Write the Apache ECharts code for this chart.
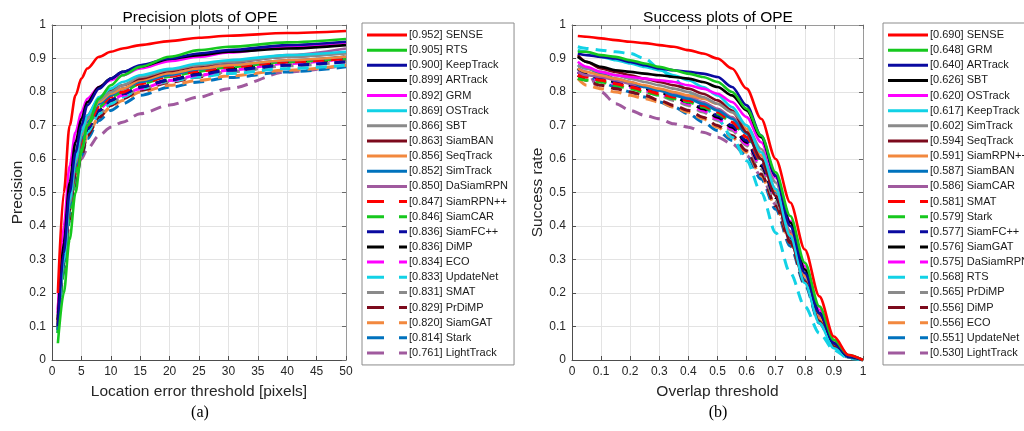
<!DOCTYPE html>
<html>
<head>
<meta charset="utf-8">
<script src="https://cdn.jsdelivr.net/npm/echarts@6/dist/echarts.min.js"></script>
<style>
  html, body { margin: 0; padding: 0; background: #fff; }
  #main { width: 1024px; height: 431px; }
</style>
</head>
<body>
<div id="main"></div>
<script>
// ---- precision plot data (OPE) ----
var precThresholds = [1, 2, 3, 4, 5, 6, 8, 10, 12, 15, 20, 25, 30, 40, 50];
var precNames = ['SENSE', 'RTS', 'KeepTrack', 'ARTrack', 'GRM', 'OSTrack', 'SBT', 'SiamBAN', 'SeqTrack', 'SimTrack', 'DaSiamRPN',
    'SiamRPN++', 'SiamCAR', 'SiamFC++', 'DiMP', 'ECO', 'UpdateNet', 'SMAT', 'PrDiMP', 'SiamGAT', 'Stark', 'LightTrack'];
var precScores = ['0.952', '0.905', '0.900', '0.899', '0.892', '0.869', '0.866', '0.863', '0.856', '0.852', '0.850',
    '0.847', '0.846', '0.836', '0.836', '0.834', '0.833', '0.831', '0.829', '0.820', '0.814', '0.761'];
var precSENSE = [0.20, 0.50, 0.70, 0.79, 0.84, 0.87, 0.905, 0.92, 0.93, 0.94, 0.952, 0.962, 0.968, 0.976, 0.982];
var precRTS = [0.05, 0.20, 0.36, 0.50, 0.62, 0.70, 0.78, 0.82, 0.85, 0.875, 0.905, 0.925, 0.935, 0.948, 0.958];
var precKeepTrack = [0.10, 0.32, 0.50, 0.62, 0.70, 0.76, 0.81, 0.84, 0.86, 0.88, 0.900, 0.915, 0.925, 0.94, 0.95];
var precARTrack = [0.12, 0.35, 0.53, 0.65, 0.72, 0.77, 0.815, 0.84, 0.86, 0.875, 0.899, 0.91, 0.92, 0.93, 0.94];
var precGRM = [0.15, 0.40, 0.58, 0.68, 0.74, 0.78, 0.815, 0.835, 0.85, 0.87, 0.892, 0.905, 0.918, 0.935, 0.948];
var precOSTrack = [0.10, 0.30, 0.48, 0.60, 0.68, 0.73, 0.785, 0.81, 0.83, 0.85, 0.869, 0.885, 0.895, 0.91, 0.92];
var precSBT = [0.10, 0.30, 0.47, 0.59, 0.67, 0.72, 0.775, 0.80, 0.82, 0.845, 0.866, 0.88, 0.89, 0.905, 0.915];
var precSiamBAN = [0.12, 0.33, 0.50, 0.61, 0.68, 0.73, 0.78, 0.805, 0.82, 0.84, 0.863, 0.878, 0.89, 0.905, 0.918];
var precSeqTrack = [0.11, 0.32, 0.49, 0.60, 0.67, 0.72, 0.77, 0.795, 0.81, 0.835, 0.856, 0.87, 0.88, 0.895, 0.905];
var precSimTrack = [0.09, 0.29, 0.46, 0.58, 0.66, 0.71, 0.765, 0.79, 0.81, 0.83, 0.852, 0.868, 0.88, 0.895, 0.905];
var precDaSiamRPN = [0.13, 0.34, 0.50, 0.61, 0.68, 0.72, 0.77, 0.79, 0.81, 0.83, 0.850, 0.87, 0.885, 0.91, 0.93];
var precSiamRPNpp = [0.10, 0.30, 0.46, 0.57, 0.65, 0.70, 0.755, 0.785, 0.80, 0.825, 0.847, 0.862, 0.875, 0.89, 0.90];
var precSiamCAR = [0.08, 0.27, 0.44, 0.56, 0.64, 0.70, 0.755, 0.785, 0.80, 0.825, 0.846, 0.862, 0.875, 0.89, 0.90];
var precSiamFCpp = [0.10, 0.30, 0.46, 0.57, 0.645, 0.69, 0.745, 0.775, 0.795, 0.815, 0.836, 0.852, 0.865, 0.88, 0.89];
var precDiMP = [0.10, 0.29, 0.45, 0.56, 0.64, 0.69, 0.745, 0.775, 0.795, 0.815, 0.836, 0.855, 0.87, 0.89, 0.905];
var precECO = [0.14, 0.35, 0.50, 0.60, 0.66, 0.70, 0.75, 0.775, 0.79, 0.81, 0.834, 0.85, 0.865, 0.885, 0.90];
var precUpdateNet = [0.09, 0.28, 0.44, 0.55, 0.63, 0.68, 0.735, 0.765, 0.785, 0.81, 0.833, 0.845, 0.855, 0.87, 0.88];
var precSMAT = [0.10, 0.29, 0.45, 0.56, 0.63, 0.68, 0.735, 0.765, 0.785, 0.81, 0.831, 0.848, 0.86, 0.878, 0.89];
var precPrDiMP = [0.09, 0.27, 0.42, 0.53, 0.61, 0.67, 0.725, 0.76, 0.78, 0.805, 0.829, 0.845, 0.86, 0.88, 0.895];
var precSiamGAT = [0.11, 0.30, 0.45, 0.55, 0.62, 0.67, 0.725, 0.755, 0.775, 0.80, 0.820, 0.835, 0.848, 0.865, 0.88];
var precStark = [0.08, 0.26, 0.42, 0.53, 0.61, 0.66, 0.715, 0.745, 0.765, 0.79, 0.814, 0.83, 0.843, 0.86, 0.875];
var precLightTrack = [0.12, 0.32, 0.47, 0.55, 0.60, 0.63, 0.67, 0.695, 0.71, 0.735, 0.761, 0.785, 0.81, 0.86, 0.88];
var precValues = [precSENSE, precRTS, precKeepTrack, precARTrack, precGRM, precOSTrack, precSBT, precSiamBAN, precSeqTrack,
    precSimTrack, precDaSiamRPN, precSiamRPNpp, precSiamCAR, precSiamFCpp, precDiMP, precECO, precUpdateNet, precSMAT,
    precPrDiMP, precSiamGAT, precStark, precLightTrack];

// ---- success plot data (OPE) ----
var succThresholds = [0.02, 0.05, 0.1, 0.15, 0.2, 0.25, 0.3, 0.35, 0.4, 0.45, 0.5, 0.55, 0.6, 0.65, 0.7, 0.75, 0.8, 0.85, 0.9, 0.95, 1.0];
var succNames = ['SENSE', 'GRM', 'ARTrack', 'SBT', 'OSTrack', 'KeepTrack', 'SimTrack', 'SeqTrack', 'SiamRPN++', 'SiamBAN', 'SiamCAR',
    'SMAT', 'Stark', 'SiamFC++', 'SiamGAT', 'DaSiamRPN', 'RTS', 'PrDiMP', 'DiMP', 'ECO', 'UpdateNet', 'LightTrack'];
var succScores = ['0.690', '0.648', '0.640', '0.626', '0.620', '0.617', '0.602', '0.594', '0.591', '0.587', '0.586',
    '0.581', '0.579', '0.577', '0.576', '0.575', '0.568', '0.565', '0.556', '0.556', '0.551', '0.530'];
var succSENSE = [0.967, 0.965, 0.96, 0.955, 0.95, 0.946, 0.94, 0.935, 0.925, 0.915, 0.9, 0.87, 0.81, 0.72, 0.60, 0.47, 0.33, 0.19, 0.07, 0.015, 0];
var succGRM = [0.92, 0.92, 0.91, 0.905, 0.895, 0.885, 0.875, 0.865, 0.855, 0.845, 0.83, 0.80, 0.75, 0.67, 0.56, 0.43, 0.29, 0.16, 0.06, 0.015, 0];
var succARTrack = [0.915, 0.91, 0.905, 0.9, 0.89, 0.88, 0.87, 0.865, 0.86, 0.855, 0.845, 0.815, 0.76, 0.67, 0.55, 0.40, 0.26, 0.14, 0.05, 0.01, 0];
var succSBT = [0.905, 0.89, 0.875, 0.865, 0.86, 0.855, 0.85, 0.845, 0.84, 0.83, 0.815, 0.79, 0.745, 0.665, 0.55, 0.41, 0.27, 0.14, 0.05, 0.01, 0];
var succOSTrack = [0.89, 0.875, 0.86, 0.85, 0.845, 0.84, 0.835, 0.83, 0.82, 0.81, 0.795, 0.77, 0.725, 0.65, 0.545, 0.415, 0.28, 0.15, 0.055, 0.012, 0];
var succKeepTrack = [0.925, 0.92, 0.905, 0.895, 0.885, 0.875, 0.865, 0.85, 0.835, 0.815, 0.79, 0.755, 0.70, 0.62, 0.51, 0.37, 0.23, 0.11, 0.035, 0.008, 0];
var succSimTrack = [0.88, 0.87, 0.86, 0.85, 0.84, 0.83, 0.82, 0.81, 0.80, 0.785, 0.765, 0.74, 0.70, 0.63, 0.53, 0.40, 0.27, 0.14, 0.05, 0.01, 0];
var succSeqTrack = [0.91, 0.89, 0.87, 0.86, 0.85, 0.84, 0.83, 0.82, 0.81, 0.795, 0.775, 0.745, 0.68, 0.60, 0.49, 0.355, 0.235, 0.115, 0.04, 0.008, 0];
var succSiamRPNpp = [0.87, 0.86, 0.85, 0.84, 0.83, 0.82, 0.81, 0.80, 0.79, 0.78, 0.765, 0.74, 0.69, 0.61, 0.505, 0.375, 0.25, 0.125, 0.045, 0.01, 0];
var succSiamBAN = [0.88, 0.87, 0.855, 0.84, 0.83, 0.815, 0.805, 0.79, 0.78, 0.765, 0.745, 0.72, 0.675, 0.60, 0.50, 0.37, 0.24, 0.12, 0.04, 0.008, 0];
var succSiamCAR = [0.86, 0.85, 0.845, 0.835, 0.825, 0.815, 0.805, 0.795, 0.785, 0.77, 0.75, 0.725, 0.68, 0.61, 0.51, 0.385, 0.255, 0.13, 0.05, 0.012, 0];
var succSMAT = [0.85, 0.845, 0.835, 0.825, 0.815, 0.805, 0.795, 0.785, 0.775, 0.76, 0.74, 0.71, 0.665, 0.595, 0.50, 0.38, 0.25, 0.13, 0.05, 0.012, 0];
var succStark = [0.84, 0.835, 0.83, 0.82, 0.81, 0.80, 0.79, 0.78, 0.77, 0.755, 0.735, 0.71, 0.665, 0.595, 0.50, 0.38, 0.25, 0.13, 0.05, 0.012, 0];
var succSiamFCpp = [0.86, 0.85, 0.84, 0.83, 0.82, 0.81, 0.80, 0.79, 0.775, 0.755, 0.73, 0.70, 0.655, 0.585, 0.49, 0.37, 0.24, 0.12, 0.045, 0.01, 0];
var succSiamGAT = [0.87, 0.855, 0.84, 0.83, 0.82, 0.81, 0.80, 0.785, 0.77, 0.75, 0.725, 0.695, 0.65, 0.58, 0.485, 0.37, 0.24, 0.12, 0.045, 0.01, 0];
var succDaSiamRPN = [0.86, 0.845, 0.835, 0.825, 0.815, 0.805, 0.795, 0.78, 0.765, 0.745, 0.72, 0.69, 0.645, 0.58, 0.49, 0.375, 0.25, 0.13, 0.05, 0.012, 0];
var succRTS = [0.935, 0.93, 0.925, 0.92, 0.915, 0.90, 0.87, 0.84, 0.80, 0.76, 0.72, 0.665, 0.595, 0.50, 0.38, 0.26, 0.16, 0.08, 0.03, 0.005, 0];
var succPrDiMP = [0.86, 0.85, 0.835, 0.825, 0.815, 0.80, 0.79, 0.775, 0.76, 0.74, 0.715, 0.685, 0.64, 0.57, 0.475, 0.36, 0.235, 0.115, 0.04, 0.008, 0];
var succDiMP = [0.85, 0.835, 0.82, 0.81, 0.80, 0.79, 0.775, 0.76, 0.745, 0.725, 0.70, 0.67, 0.625, 0.555, 0.46, 0.35, 0.23, 0.115, 0.04, 0.008, 0];
var succECO = [0.84, 0.82, 0.81, 0.80, 0.79, 0.78, 0.77, 0.755, 0.74, 0.72, 0.695, 0.665, 0.62, 0.55, 0.46, 0.35, 0.235, 0.12, 0.045, 0.01, 0];
var succUpdateNet = [0.87, 0.85, 0.83, 0.815, 0.80, 0.785, 0.77, 0.755, 0.735, 0.71, 0.685, 0.655, 0.61, 0.54, 0.45, 0.34, 0.225, 0.11, 0.04, 0.008, 0];
var succLightTrack = [0.87, 0.86, 0.80, 0.765, 0.745, 0.73, 0.72, 0.705, 0.695, 0.68, 0.665, 0.645, 0.61, 0.55, 0.465, 0.36, 0.245, 0.13, 0.05, 0.012, 0];
var succValues = [succSENSE, succGRM, succARTrack, succSBT, succOSTrack, succKeepTrack, succSimTrack, succSeqTrack, succSiamRPNpp,
    succSiamBAN, succSiamCAR, succSMAT, succStark, succSiamFCpp, succSiamGAT, succDaSiamRPN, succRTS, succPrDiMP, succDiMP,
    succECO, succUpdateNet, succLightTrack];

// 11 colours, first pass solid, second pass dashed (same order in both plots)
var lineColors = ['#ff0000', '#16c81e', '#0a0aa0', '#000000', '#ff00ff', '#12d2e6', '#8a8a8a', '#7c0a1c', '#f2883e', '#0072bd', '#a05a9e'];

var FONT = '"Liberation Sans", Arial, sans-serif';
// legend sample for dashed lines: long dash, gap, short dash
var DASH_ICON = 'path://M0,0H17V3H0Z M32,0H40V3H32Z';

function buildSeries(names, scores, values, xs, axisIdx) {
    var series = [];
    var legendData = [];
    for (var i = 0; i < names.length; i++) {
        var label = '[' + scores[i] + '] ' + names[i];
        var dashed = i >= 11;
        var color = lineColors[i % 11];
        var pts = [];
        for (var j = 0; j < xs.length; j++) {
            pts.push([xs[j], values[i][j]]);
        }
        series.push({
            name: label,
            type: 'line',
            xAxisIndex: axisIdx,
            yAxisIndex: axisIdx,
            data: pts,
            symbol: 'none',
            smooth: 0.3,
            smoothMonotone: 'x',
            z: 30 - i,
            silent: true,
            itemStyle: { color: color },
            lineStyle: { color: color, width: dashed ? 3 : 2.6, type: dashed ? [11, 7] : 'solid' }
        });
        legendData.push({
            name: label,
            icon: dashed ? DASH_ICON : 'rect',
            itemStyle: { color: color }
        });
    }
    return { series: series, legend: legendData };
}

var prec = buildSeries(precNames, precScores, precValues, precThresholds, 0);
var succ = buildSeries(succNames, succScores, succValues, succThresholds, 1);

function axisCommon() {
    return {
        axisLine: { show: true, onZero: false, lineStyle: { color: '#4d4d4d', width: 1 } },
        axisTick: { show: true, inside: true, length: 4, lineStyle: { color: '#4d4d4d' } },
        axisLabel: { color: '#262626', fontSize: 12, fontFamily: FONT, margin: 6 },
        splitLine: { show: true, lineStyle: { color: '#e3e3e3', width: 1 } },
        nameLocation: 'middle',
        nameTextStyle: { color: '#262626', fontSize: 15.5, fontFamily: FONT }
    };
}

function mk(extra) {
    var o = axisCommon();
    for (var k in extra) o[k] = extra[k];
    return o;
}

// mirrored box axes (top / right) with inward ticks, no labels
function mirror(extra) {
    var o = {
        type: 'value',
        axisLine: { show: true, onZero: false, lineStyle: { color: '#9a9a9a', width: 1 } },
        axisTick: { show: true, inside: true, length: 4, lineStyle: { color: '#6a6a6a' } },
        axisLabel: { show: false },
        splitLine: { show: false }
    };
    for (var k in extra) o[k] = extra[k];
    return o;
}

var legendCommon = {
    orient: 'vertical',
    top: 23,
    itemWidth: 40,
    itemHeight: 3,
    itemGap: 3.14,
    padding: [6, 6, 6, 5],
    borderColor: '#8c8c8c',
    borderWidth: 1,
    borderRadius: 0,
    backgroundColor: '#fff',
    selectedMode: false,
    textStyle: { fontSize: 11, lineHeight: 12, color: '#1a1a1a', fontFamily: FONT, padding: [0, 0, 0, -3] }
};

var chart = echarts.init(document.getElementById('main'), null, { renderer: 'canvas' });
var option = {
    animation: false,
    backgroundColor: '#fff',
    title: [
        { text: 'Precision plots of OPE', left: 195, top: 5, textAlign: 'center',
          textStyle: { fontSize: 15.5, fontWeight: 'normal', color: '#000', fontFamily: FONT } },
        { text: 'Success plots of OPE', left: 713, top: 5, textAlign: 'center',
          textStyle: { fontSize: 15.5, fontWeight: 'normal', color: '#000', fontFamily: FONT } },
        { text: '(a)', left: 195, top: 400, textAlign: 'center',
          textStyle: { fontSize: 16, fontWeight: 'normal', color: '#000', fontFamily: '"Liberation Serif", serif' } },
        { text: '(b)', left: 713, top: 400, textAlign: 'center',
          textStyle: { fontSize: 16, fontWeight: 'normal', color: '#000', fontFamily: '"Liberation Serif", serif' } }
    ],
    grid: [
        { left: 52, top: 25, width: 294, height: 335, show: true, borderWidth: 0, backgroundColor: '#fff', outerBoundsMode: 'none' },
        { left: 572, top: 25, width: 291, height: 335, show: true, borderWidth: 0, backgroundColor: '#fff', outerBoundsMode: 'none' }
    ],
    legend: [
        Object.assign({}, legendCommon, { left: 362, data: prec.legend }),
        Object.assign({}, legendCommon, { left: 883, data: succ.legend })
    ],
    xAxis: [
        mk({ type: 'value', gridIndex: 0, min: 0, max: 50, interval: 5, name: 'Location error threshold [pixels]', nameGap: 24 }),
        mk({ type: 'value', gridIndex: 1, min: 0, max: 1, interval: 0.1, name: 'Overlap threshold', nameGap: 24 }),
        mirror({ gridIndex: 0, position: 'top', min: 0, max: 50, interval: 5 }),
        mirror({ gridIndex: 1, position: 'top', min: 0, max: 1, interval: 0.1 })
    ],
    yAxis: [
        mk({ type: 'value', gridIndex: 0, min: 0, max: 1, interval: 0.1, name: 'Precision', nameGap: 25 }),
        mk({ type: 'value', gridIndex: 1, min: 0, max: 1, interval: 0.1, name: 'Success rate', nameGap: 25 }),
        mirror({ gridIndex: 0, position: 'right', min: 0, max: 1, interval: 0.1 }),
        mirror({ gridIndex: 1, position: 'right', min: 0, max: 1, interval: 0.1 })
    ],
    series: prec.series.concat(succ.series)
};
chart.setOption(option);
</script>
</body>
</html>
